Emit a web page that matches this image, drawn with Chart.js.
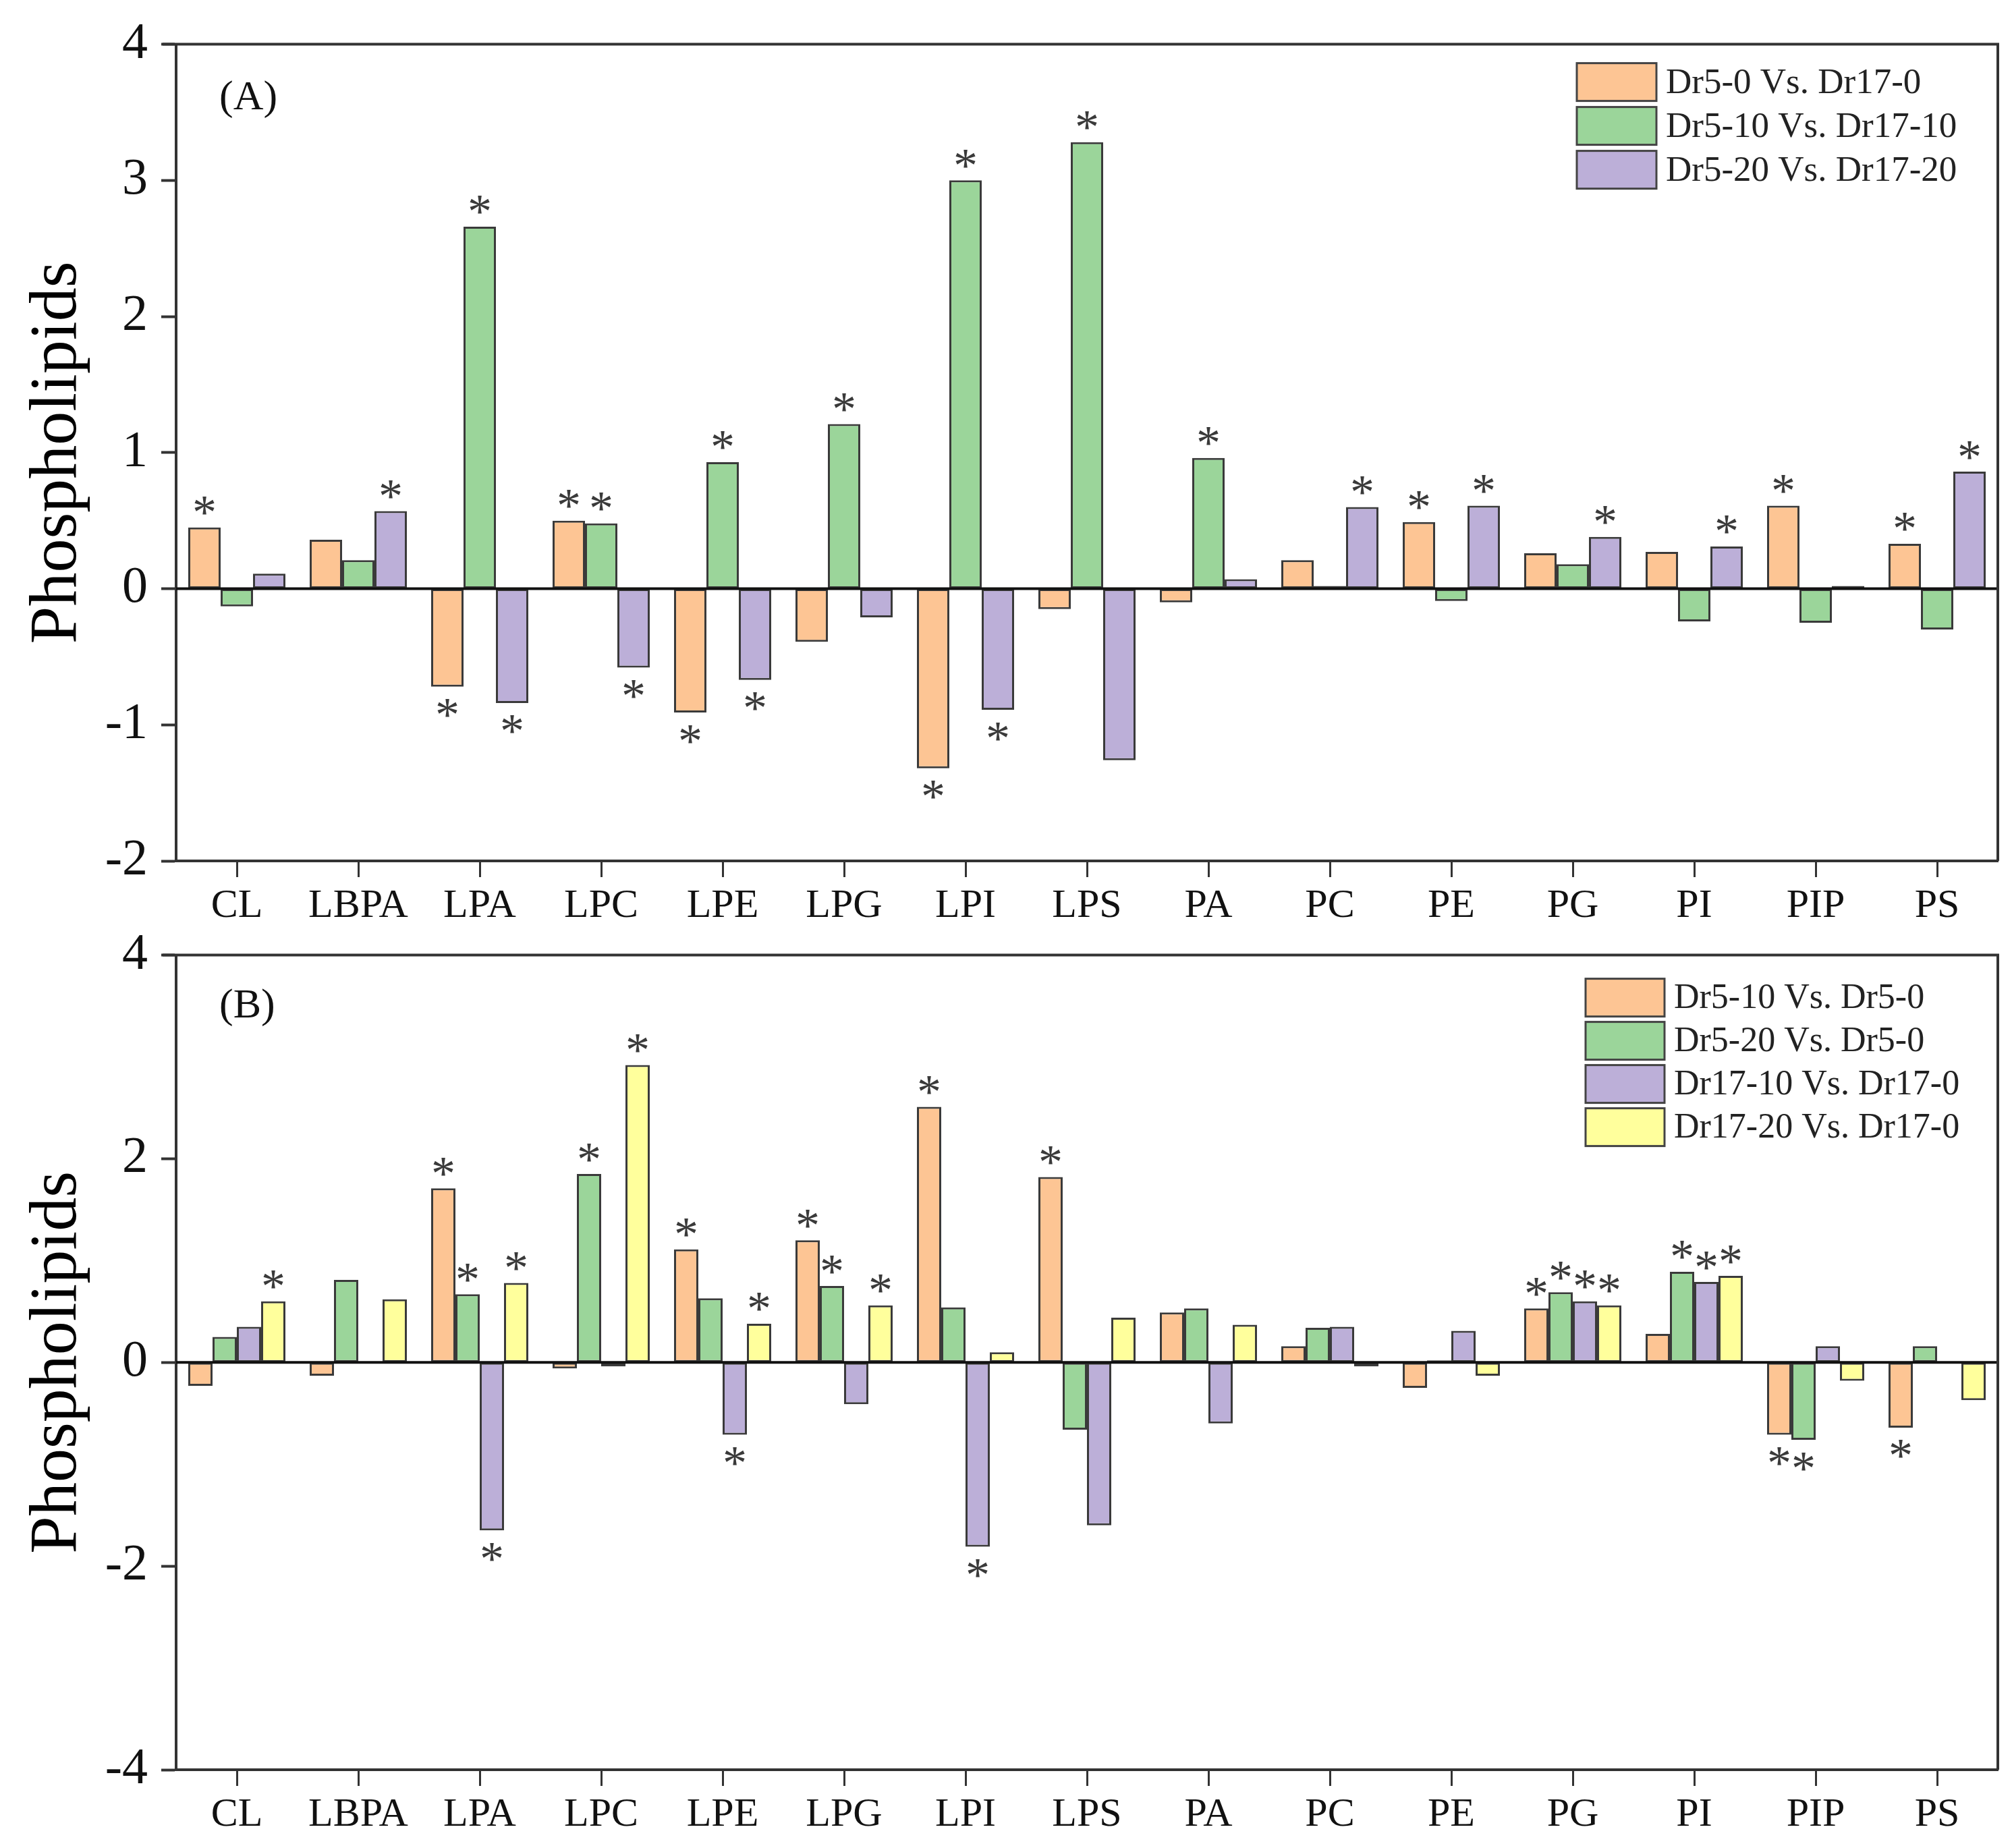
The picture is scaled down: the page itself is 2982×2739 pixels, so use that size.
<!DOCTYPE html>
<html>
<head>
<meta charset="utf-8">
<script src="https://cdn.jsdelivr.net/npm/chart.js@4.4.1/dist/chart.umd.min.js"></script>
<style>
  html, body { margin: 0; padding: 0; background: #fff; }
  #wrap { position: relative; width: 2982px; height: 2739px; }
  canvas { position: absolute; left: 0; }
  #chartA { top: 0; }
  #chartB { top: 1350px; }
</style>
</head>
<body>
<div id="wrap">
  <canvas id="chartA" width="2982" height="1380"></canvas>
  <canvas id="chartB" width="2982" height="1389"></canvas>
</div>
<script>
// phospholipid classes
const categories = ['CL', 'LBPA', 'LPA', 'LPC', 'LPE', 'LPG', 'LPI', 'LPS', 'PA', 'PC', 'PE', 'PG', 'PI', 'PIP', 'PS'];

// panel (A)
const labelsA = ['Dr5-0 Vs. Dr17-0', 'Dr5-10 Vs. Dr17-10', 'Dr5-20 Vs. Dr17-20'];
const dr0 = [0.45, 0.36, -0.72, 0.50, -0.91, -0.39, -1.32, -0.15, -0.10, 0.21, 0.49, 0.26, 0.27, 0.61, 0.33];
const dr10 = [-0.13, 0.21, 2.66, 0.48, 0.93, 1.21, 3.00, 3.28, 0.96, 0.02, -0.09, 0.18, -0.24, -0.25, -0.30];
const dr20 = [0.11, 0.57, -0.84, -0.58, -0.67, -0.21, -0.89, -1.26, 0.07, 0.60, 0.61, 0.38, 0.31, 0.02, 0.86];
const sigDr0 = [1, 0, 1, 1, 1, 0, 1, 0, 0, 0, 1, 0, 0, 1, 1];
const sigDr10 = [0, 0, 1, 1, 1, 1, 1, 1, 1, 0, 0, 0, 0, 0, 0];
const sigDr20 = [0, 1, 1, 1, 1, 0, 1, 0, 0, 1, 1, 1, 1, 0, 1];
const ticksA = { min: -2, max: 4, step: 1 };

// panel (B)
const labelsB = ['Dr5-10 Vs. Dr5-0', 'Dr5-20 Vs. Dr5-0', 'Dr17-10 Vs. Dr17-0', 'Dr17-20 Vs. Dr17-0'];
const dr5_10 = [-0.23, -0.13, 1.71, -0.06, 1.11, 1.20, 2.51, 1.82, 0.49, 0.16, -0.25, 0.53, 0.28, -0.71, -0.64];
const dr5_20 = [0.25, 0.81, 0.67, 1.85, 0.63, 0.75, 0.54, -0.66, 0.53, 0.34, 0.02, 0.69, 0.89, -0.76, 0.16];
const dr17_10 = [0.35, 0, -1.65, -0.04, -0.71, -0.41, -1.81, -1.60, -0.60, 0.35, 0.31, 0.60, 0.79, 0.16, 0];
const dr17_20 = [0.60, 0.62, 0.78, 2.92, 0.38, 0.56, 0.10, 0.44, 0.37, -0.04, -0.13, 0.56, 0.85, -0.18, -0.37];
const sig5_10 = [0, 0, 1, 0, 1, 1, 1, 1, 0, 0, 0, 1, 0, 1, 1];
const sig5_20 = [0, 0, 1, 1, 0, 1, 0, 0, 0, 0, 0, 1, 1, 1, 0];
const sig17_10 = [0, 0, 1, 0, 1, 0, 1, 0, 0, 0, 0, 1, 1, 0, 0];
const sig17_20 = [1, 0, 1, 1, 1, 1, 0, 0, 0, 0, 0, 1, 1, 0, 0];
const ticksB = { min: -4, max: 4, step: 2 };

const colors = ['#fdc594', '#9bd59a', '#bcafd8', '#ffff9c'];
const FONT = '"Liberation Serif", "Times New Roman", serif';

// zero line, stars, frame, legend and panel tag
const decorPlugin = {
  id: 'decor',
  afterDatasetsDraw(chart) {
    const ctx = chart.ctx;
    const a = chart.chartArea;
    const y0 = chart.scales.y.getPixelForValue(0);
    ctx.save();
    ctx.strokeStyle = '#111';
    ctx.lineWidth = 4;
    ctx.beginPath();
    ctx.moveTo(a.left, y0);
    ctx.lineTo(a.right, y0);
    ctx.stroke();

    ctx.fillStyle = '#3a3a3a';
    ctx.font = '72px ' + FONT;
    ctx.textAlign = 'center';
    ctx.textBaseline = 'alphabetic';
    const m = ctx.measureText('*');
    const shift = (m.actualBoundingBoxAscent - m.actualBoundingBoxDescent) / 2;
    chart.data.datasets.forEach((ds, i) => {
      const meta = chart.getDatasetMeta(i);
      ds.stars.forEach((s, j) => {
        if (!s) return;
        const bar = meta.data[j];
        const cy = ds.data[j] >= 0 ? bar.y - 32 : bar.y + 32;
        ctx.fillText('*', bar.x, cy + shift);
      });
    });
    ctx.restore();
  },
  afterDraw(chart, args, opts) {
    const ctx = chart.ctx;
    const a = chart.chartArea;
    ctx.save();
    ctx.strokeStyle = '#333';
    ctx.lineWidth = 4;
    ctx.beginPath();
    ctx.moveTo(a.left - 20, a.top);
    ctx.lineTo(a.right, a.top);
    ctx.lineTo(a.right, a.bottom);
    ctx.stroke();

    // panel tag
    ctx.fillStyle = '#111';
    ctx.font = '62px ' + FONT;
    ctx.textAlign = 'left';
    ctx.textBaseline = 'middle';
    ctx.fillText(opts.tag, a.left + 64, a.top + opts.tagY);

    // legend
    const lg = opts.legend;
    ctx.font = lg.size + 'px ' + FONT;
    chart.data.datasets.forEach((ds, i) => {
      const bx = a.right - lg.right;
      const by = a.top + lg.top + i * lg.gap;
      ctx.fillStyle = ds.backgroundColor;
      ctx.fillRect(bx, by, lg.w, lg.h);
      ctx.strokeStyle = '#444';
      ctx.lineWidth = 3;
      ctx.strokeRect(bx, by, lg.w, lg.h);
      ctx.fillStyle = '#222';
      ctx.fillText(ds.label, bx + lg.w + 14, by + lg.h / 2 + 2);
    });
    ctx.restore();
  }
};

function makeDatasets(labels, series, stars) {
  return series.map((data, i) => ({
    label: labels[i],
    data: data,
    stars: stars[i],
    backgroundColor: colors[i],
    borderColor: '#3a3a3a',
    borderWidth: 3,
    borderSkipped: false,
    categoryPercentage: 0.8,
    barPercentage: 1.0,
  }));
}

function makeChart(id, datasets, yTicks, padTop, xAxisH, tag, tagY, legend) {
  return new Chart(document.getElementById(id), {
    type: 'bar',
    data: { labels: categories, datasets: datasets },
    plugins: [decorPlugin],
    options: {
      responsive: false,
      devicePixelRatio: 1,
      animation: false,
      layout: { padding: { top: padTop, right: 21, left: 0, bottom: 0 } },
      plugins: {
        legend: { display: false },
        tooltip: { enabled: false },
        decor: { tag: tag, tagY: tagY, legend: legend },
      },
      scales: {
        x: {
          ticks: { color: '#111', font: { family: FONT, size: 60 }, padding: 7, maxRotation: 0, autoSkip: false },
          grid: { offset: false, drawOnChartArea: false, tickLength: 24, tickWidth: 3, tickColor: '#333' },
          border: { display: true, width: 4, color: '#333' },
          afterFit(s) { s.height = xAxisH; },
        },
        y: {
          min: yTicks.min,
          max: yTicks.max,
          ticks: { stepSize: yTicks.step, color: '#111', font: { family: FONT, size: 76 }, padding: 20 },
          grid: { drawOnChartArea: false, tickLength: 22, tickWidth: 4, tickColor: '#333' },
          border: { display: true, width: 4, color: '#333' },
          title: {
            display: true,
            text: 'Phospholipids',
            color: '#000',
            font: { family: FONT, size: 100 },
            padding: { top: 26, bottom: 0 },
          },
          afterFit(s) { s.width = 261; },
        },
      },
    },
  });
}

makeChart('chartA',
  makeDatasets(labelsA, [dr0, dr10, dr20], [sigDr0, sigDr10, sigDr20]),
  ticksA, 62, 104, '(A)', 80,
  { right: 624, top: 28, w: 118, h: 56, gap: 65, size: 53 });

makeChart('chartB',
  makeDatasets(labelsB, [dr5_10, dr5_20, dr17_10, dr17_20], [sig5_10, sig5_20, sig17_10, sig17_20]),
  ticksB, 64, 116, '(B)', 76,
  { right: 611, top: 35, w: 117, h: 56, gap: 64, size: 52 });
</script>
</body>
</html>
